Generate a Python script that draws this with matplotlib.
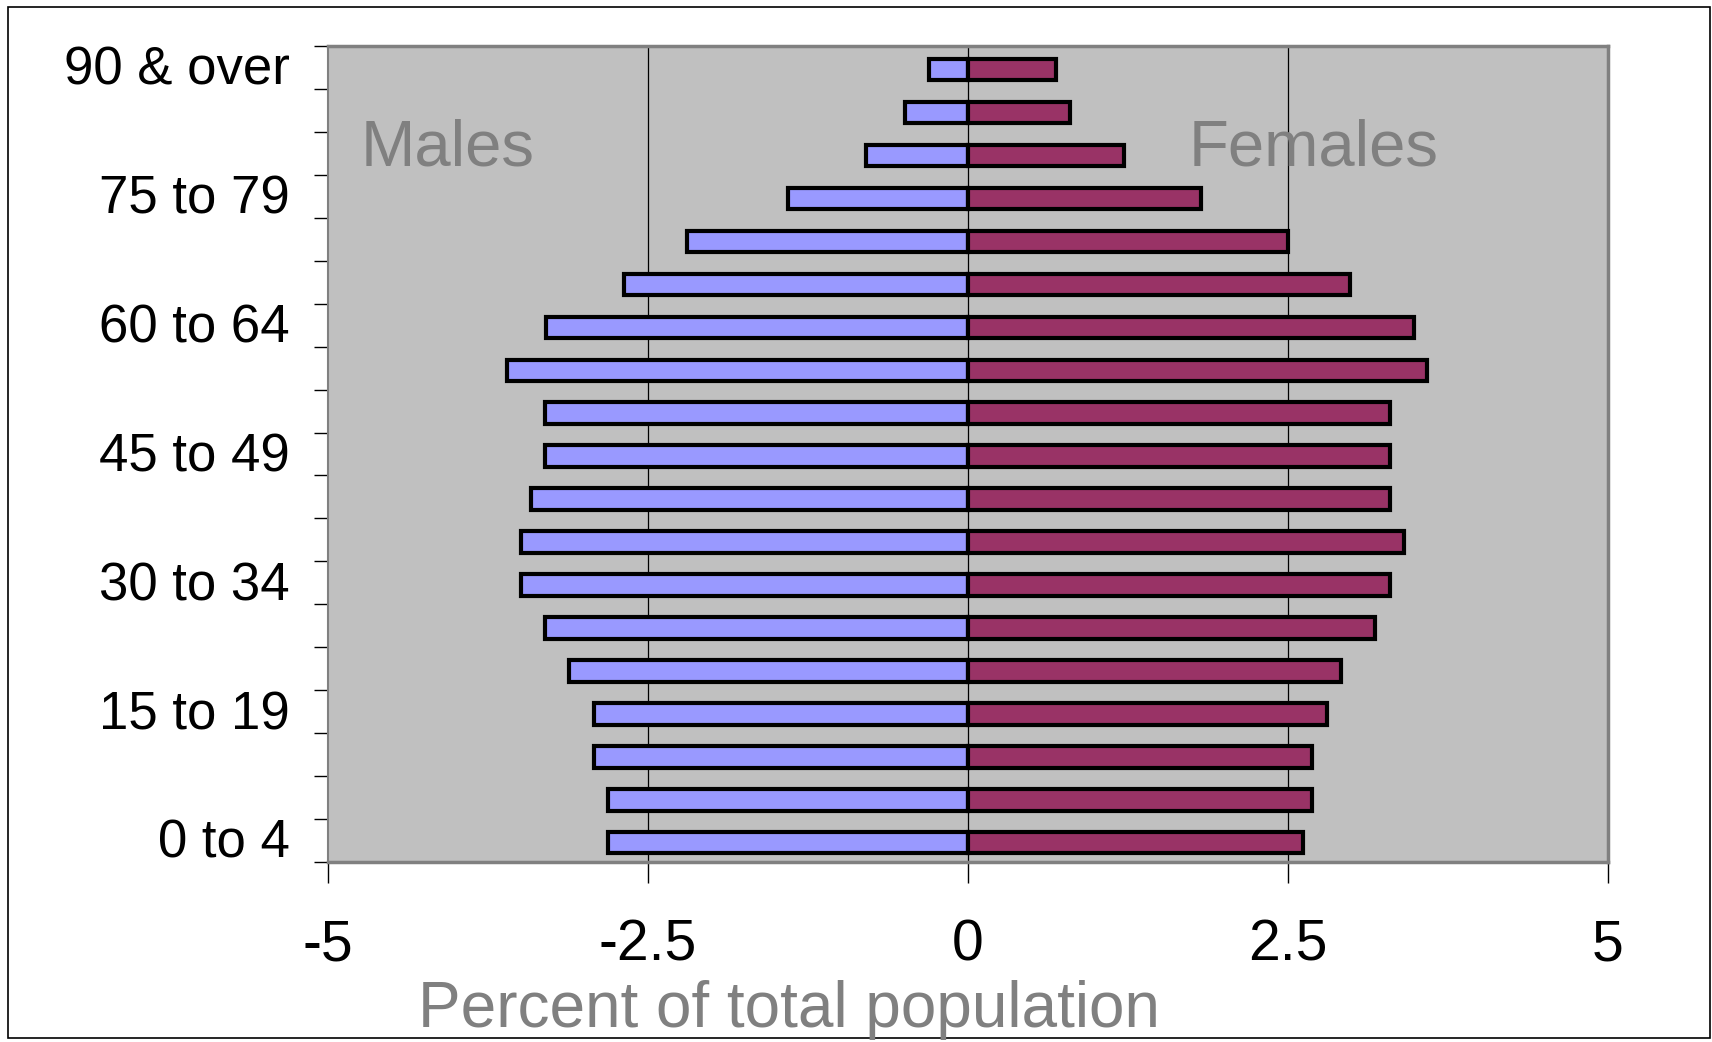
import matplotlib.pyplot as plt
from matplotlib.patches import Rectangle

plt.rcParams['font.family'] = ['Liberation Sans', 'DejaVu Sans']

# age groups, youngest first
age_groups = ['0 to 4', '5 to 9', '10 to 14', '15 to 19', '20 to 24', '25 to 29',
              '30 to 34', '35 to 39', '40 to 44', '45 to 49', '50 to 54', '55 to 59',
              '60 to 64', '65 to 69', '70 to 74', '75 to 79', '80 to 84', '85 to 89',
              '90 & over']
males = [2.81, 2.81, 2.92, 2.92, 3.11, 3.30, 3.49, 3.49, 3.41, 3.30, 3.30, 3.60,
         3.29, 2.68, 2.19, 1.40, 0.79, 0.49, 0.30]
females = [2.62, 2.69, 2.69, 2.81, 2.92, 3.18, 3.30, 3.41, 3.30, 3.30, 3.30, 3.59,
           3.49, 2.99, 2.50, 1.82, 1.22, 0.80, 0.69]
shown_labels = ['0 to 4', '15 to 19', '30 to 34', '45 to 49', '60 to 64', '75 to 79', '90 & over']
x_ticks = [-5, -2.5, 0, 2.5, 5]

fig = plt.figure(figsize=(17.12, 10.42), dpi=100)
ax = fig.add_axes([0.1913, 0.1727, 0.7477, 0.7832])
ax.set_facecolor('#C0C0C0')

pos = [i - 0.05 for i in range(len(age_groups))]
for xv in [-2.5, 0, 2.5]:
    ax.axvline(xv, color='black', lw=0.9, zorder=1)

ax.barh(pos, [-m for m in males], height=0.5, color='#9999FF', edgecolor='black',
        linewidth=3, zorder=2)
ax.barh(pos, females, height=0.5, color='#993366', edgecolor='black',
        linewidth=3, zorder=2)

ax.set_xlim(-5, 5)
ax.set_ylim(-0.5, len(age_groups) - 0.5)
ax.set_xticks(x_ticks)
ax.set_xticklabels(['-5', '-2.5', '0', '2.5', '5'], fontsize=41)
ax.tick_params(axis='x', length=15, width=1, color='black', pad=26)

# boundary ticks on y, labels every third group
n = len(age_groups)
ax.set_yticks([i - 0.5 for i in range(n + 1)])
ax.set_yticks([age_groups.index(l) + 0.05 for l in shown_labels], minor=True)
ax.set_yticklabels([''] * (n + 1))
ax.set_yticklabels(shown_labels, minor=True, fontsize=38)
ax.tick_params(axis='y', which='major', length=10, width=1, color='black')
ax.tick_params(axis='y', which='minor', length=0, pad=27)

for side in ['top', 'right', 'bottom', 'left']:
    ax.spines[side].set_color('#808080')
    ax.spines[side].set_linewidth(2.5)
ax.spines['left'].set_linewidth(1.5)

ax.text(0.094, 0.874, 'Males', transform=ax.transAxes, fontsize=47,
        color='#808080', ha='center', va='center')
ax.text(0.770, 0.874, 'Females', transform=ax.transAxes, fontsize=47,
        color='#808080', ha='center', va='center')

fig.text(789 / 1712, 1 - 1010 / 1042, 'Percent of total population', fontsize=46,
         color='#808080', ha='center', va='center')

fig.patches.append(Rectangle((8 / 1712, 1 - 1038 / 1042), 1702 / 1712, 1031 / 1042,
                             transform=fig.transFigure, fill=False,
                             edgecolor='black', lw=1.2))

fig.savefig('out.png', dpi=100)
